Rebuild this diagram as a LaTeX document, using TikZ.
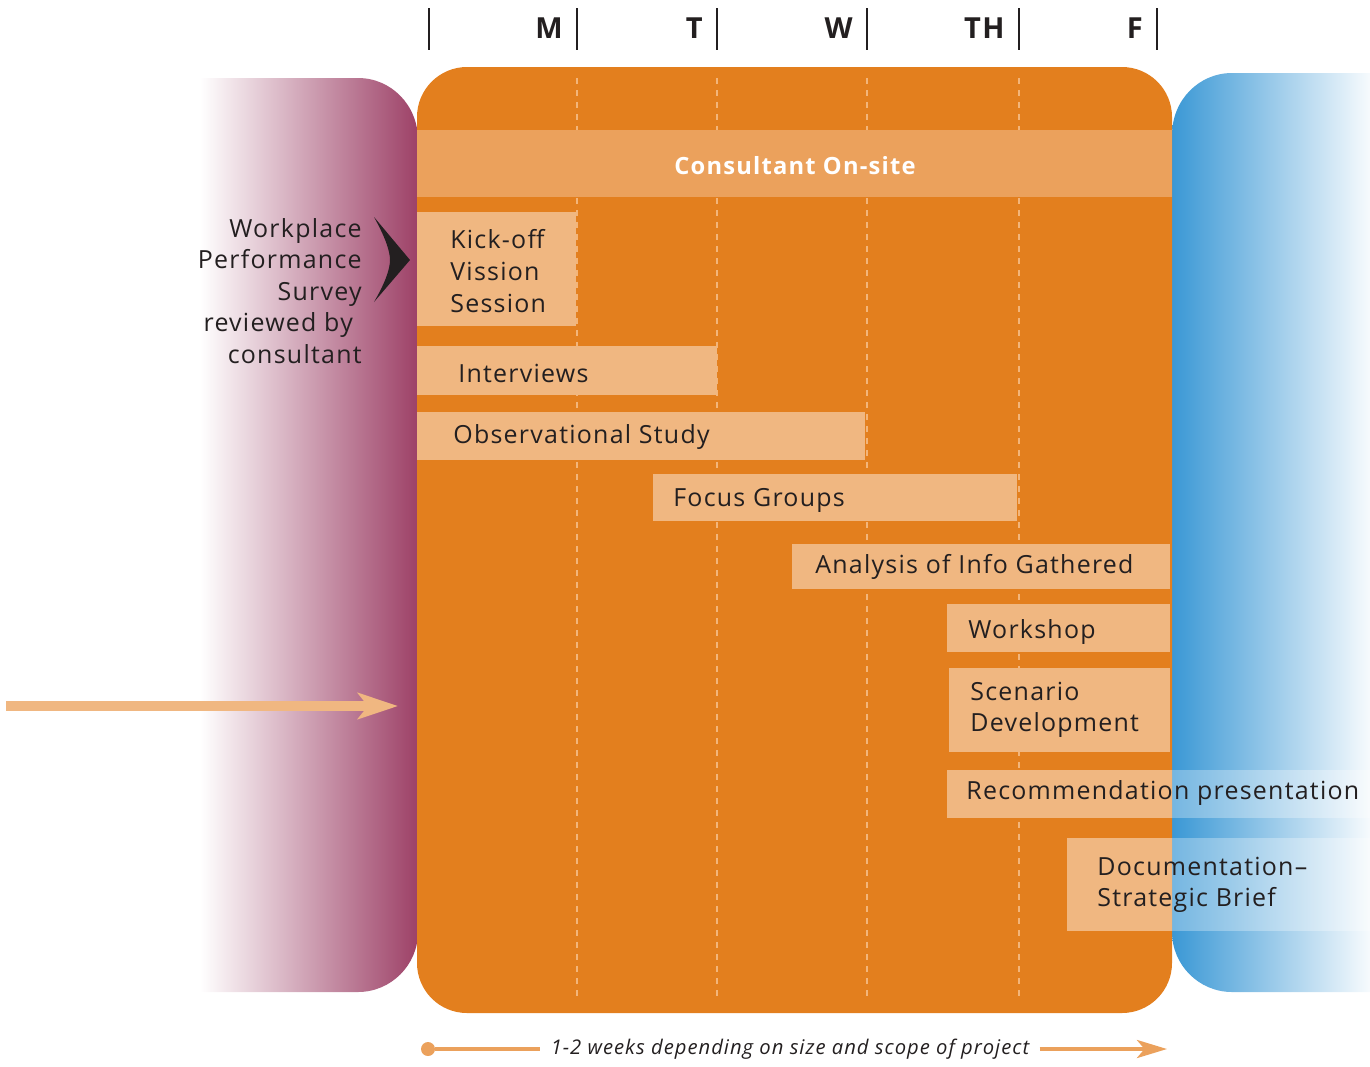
\documentclass[tikz,border=0pt]{standalone}
\usepackage{fontspec}
\setmainfont{Open Sans}[LetterSpace=5]
\usetikzlibrary{arrows, arrows.meta}

\definecolor{weekorange}{HTML}{E37F1E}
\definecolor{bandorange}{HTML}{EBA15C}
\definecolor{taskpeach}{HTML}{F0B781}
\definecolor{dashpeach}{HTML}{F3B57A}
\definecolor{surveyplum}{HTML}{9D4167}
\definecolor{reportblue}{HTML}{3A98D5}
\definecolor{inkgrey}{HTML}{231F20}

\tikzset{
	taskbox/.style={fill=taskpeach},
	tasktext/.style={font=\fontsize{14.2}{18}\selectfont, text=inkgrey, inner sep=0pt, anchor=west, align=left},
	daytick/.style={draw=inkgrey, line width=0.4mm},
	daylabel/.style={font=\fontsize{16.5}{20}\selectfont\bfseries, text=inkgrey, inner sep=0pt, anchor=east},
	dayline/.style={draw=dashpeach, line width=0.4mm, dash pattern=on 1.2mm off 1.2mm},
	overblue/.style={fill=white, opacity=0.3}
}

\begin{document}
\begin{tikzpicture}[x=0.2mm, y=-0.2mm]
	\useasboundingbox (0,0) rectangle (1370,1066);

	%survey side panel
	\shade[left color=white, right color=surveyplum] (200,78) -- (358,78) .. controls (391,78) and (418,105) .. (418,140) -- (418,932) .. controls (418,965) and (391,992) .. (358,992) -- (200,992) -- cycle;
	%report side panel
	\shade[left color=reportblue, right color=white!96!reportblue] (1370,73) -- (1232,73) .. controls (1199,73) and (1172,100) .. (1172,135) -- (1172,932) .. controls (1172,965) and (1199,992) .. (1232,992) -- (1370,992) -- cycle;
	%week panel
	\fill[weekorange, rounded corners=10mm] (417,67) rectangle (1172,1013);

	%day ticks and labels
	\draw[daytick] (429,8) -- (429,50);
	\foreach \x/\d in {577/M, 717/T, 867/W, 1019/TH, 1157/F} {
		\draw[daytick] (\x,8) -- (\x,50);
		\node[daylabel] (day\d) at (\x-14,28) {\d};
	}
	\foreach \x in {577, 717, 867, 1019}
		\draw[dayline] (\x,78) -- (\x,1000);		%day dividers

	%consultant band
	\fill[bandorange] (417,130) rectangle (1172,197);
	\node[font=\fontsize{13.5}{16}\selectfont\bfseries, text=white] (onsite) at (795,166) {Consultant On-site};

	%task boxes
	\fill[taskbox] (417,212) rectangle (576,326);
	\fill[taskbox] (417,346) rectangle (717,395);
	\fill[taskbox] (417,412) rectangle (865,460);
	\fill[taskbox] (653,474) rectangle (1017,521);
	\fill[taskbox] (792,544) rectangle (1170,589);
	\fill[taskbox] (947,604) rectangle (1170,652);
	\fill[taskbox] (949,668) rectangle (1170,752);
	\fill[taskbox] (947,770) rectangle (1172,818);
	\fill[overblue] (1172,770) rectangle (1370,818);
	\fill[taskbox] (1067,838) rectangle (1172,931);
	\fill[overblue] (1172,838) rectangle (1370,931);

	\node[tasktext] (kickoff) at (450,271) {Kick-off\\Vission\\Session};
	\node[tasktext] (interviews) at (458,373) {Interviews};
	\node[tasktext] (observe) at (453,437) {Observational Study};
	\node[tasktext] (focus) at (673,500) {Focus Groups};
	\node[tasktext] (analysis) at (815,567) {Analysis of Info Gathered};
	\node[tasktext] (workshop) at (968,632) {Workshop};
	\node[tasktext] (scenario) at (970,710) {Scenario\\Development};
	\node[tasktext] (recommend) at (966,793) {Recommendation presentation};
	\node[tasktext] (brief) at (1097,885) {Documentation–\\Strategic Brief};

	%survey note and pointer
	\node[tasktext, anchor=east, align=right] (survey) at (362,291) {Workplace\\Performance\\Survey\\reviewed by\kern5pt\\consultant};
	\fill[inkgrey] (374,217) -- (410,260) -- (374,302) .. controls (384,285) and (390,270) .. (390,260) .. controls (390,250) and (384,235) .. cycle;

	%incoming arrow
	\coordinate (infrom) at (6,706);
	\coordinate (into) at (398,706);
	\draw[taskpeach, line width=2mm, -{Stealth[length=8mm, width=5.2mm, inset=2mm]}] (infrom) -- (into);

	%duration arrow
	\node[circle, fill=bandorange, inner sep=0pt, minimum size=2.8mm] (startdot) at (428,1049) {};
	\node[font=\fontsize{11.5}{14}\selectfont\itshape, text=inkgrey, inner sep=0pt] (span) at (790,1049) {1-2 weeks depending on size and scope of project};
	\coordinate (spanend) at (1167,1049);
	\draw[bandorange, line width=0.8mm] (startdot) -- ([xshift=-2mm]span.west);
	\draw[bandorange, line width=0.8mm, -{Stealth[length=6mm, width=3.6mm, inset=1.5mm]}] ([xshift=2mm]span.east) -- (spanend);
\end{tikzpicture}
\end{document}
